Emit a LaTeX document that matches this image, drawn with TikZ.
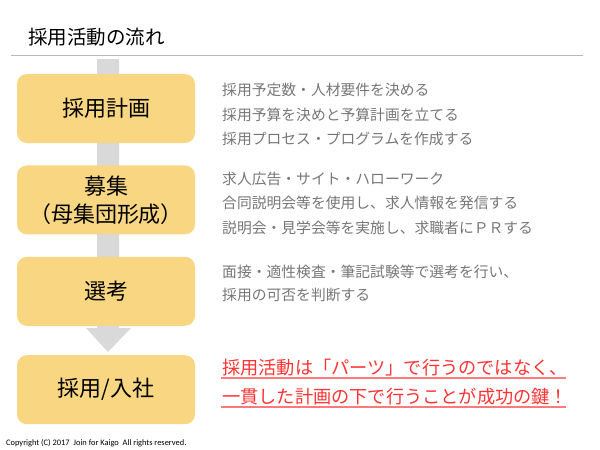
\documentclass[tikz,border=0pt]{standalone}
\usepackage{fontspec}
\setmainfont{Noto Sans CJK JP}
\newfontfamily\latinfont{Carlito}
\usetikzlibrary{positioning}
\definecolor{stepfill}{HTML}{F8D682}
\definecolor{flowgray}{HTML}{D9D9D9}
\definecolor{notegray}{HTML}{767676}
\definecolor{keyred}{HTML}{FF3333}
\definecolor{keyline}{HTML}{FF7A7A}

\begin{document}
\begin{tikzpicture}[x=1pt, y=-1pt,
	stepbox/.style={fill=stepfill, rounded corners=10pt, minimum width=178pt, minimum height=69pt, inner sep=0pt, align=center, font=\fontsize{22}{28}\selectfont},
	note/.style={anchor=west, align=left, text=notegray, inner sep=0pt, font=\fontsize{14.8}{24.5}\selectfont}]
	\useasboundingbox (0,0) rectangle (600,450);
	\node[anchor=west, inner sep=0pt, font=\fontsize{19.5}{24}\selectfont] (title) at (28,37) {採用活動の流れ};
	\draw[gray!55, line width=1pt] (11,55) -- (583,55);
	% gray arrow behind the boxes
	\coordinate (tip) at (108,352);
	\fill[flowgray] (97,59) -- (119,59) -- (119,328) -- (131,328) -- (tip) -- (86,328) -- (97,328) -- cycle;
	\node[stepbox] (plan) at (106,108.5) {採用計画};
	\node[stepbox] (recruit) [below=22pt of plan] {募集\\（母集団形成）};
	\node[stepbox] (select) [below=22pt of recruit] {選考};
	\node[stepbox] (hire) [below=29pt of select] {採用/入社};
	\node[note] (plannote) at (222,114.5) {採用予定数・人材要件を決める\\採用予算を決めと予算計画を立てる\\採用プロセス・プログラムを作成する};
	\node[note] (recruitnote) at (222,203) {求人広告・サイト・ハローワーク\\合同説明会等を使用し、求人情報を発信する\\説明会・見学会等を実施し、求職者にＰＲする};
	\node[note, font=\fontsize{14.8}{23.5}\selectfont] (selectnote) at (222,283.5) {面接・適性検査・筆記試験等で選考を行い、\\採用の可否を判断する};
	\node[anchor=west, inner sep=0pt, text=keyred, font=\fontsize{18.2}{24}\selectfont] (key1) at (222,368) {採用活動は「パーツ」で行うのではなく、};
	\node[anchor=west, inner sep=0pt, text=keyred, font=\fontsize{18.2}{24}\selectfont] (key2) at (222,397) {一貫した計画の下で行うことが成功の鍵！};
	\draw[keyline, line width=2pt] (221,378) -- (566,378);
	\draw[keyline, line width=2pt] (221,406.5) -- (566,406.5);
	\node[anchor=west, inner sep=0pt, font=\latinfont\fontsize{8.4}{10}\selectfont] (copy) at (6,443) {Copyright (C) 2017\ \ Join for Kaigo\ \ All rights reserved.};
\end{tikzpicture}
\end{document}
